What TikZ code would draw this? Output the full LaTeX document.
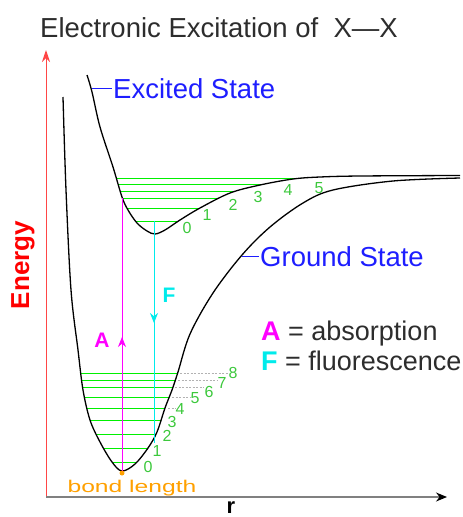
\documentclass[tikz,border=0pt]{standalone}
\usepackage{fontspec}
\setmainfont{Liberation Sans}
\usetikzlibrary{arrows.meta}

\definecolor{axisred}{RGB}{255,70,70}
\definecolor{lvlgreen}{RGB}{0,240,0}
\definecolor{numgreen}{RGB}{60,200,60}
\definecolor{stateblue}{RGB}{30,30,255}
\definecolor{absmag}{RGB}{255,0,255}
\definecolor{fluocyan}{RGB}{0,235,235}
\definecolor{bondorange}{RGB}{255,160,0}
\definecolor{textgray}{RGB}{45,45,45}

% potential curves (pixel coordinates, y downwards)
\newcommand{\groundcurve}{plot[smooth, tension=0.55] coordinates {(63,97) (66,190) (71,290) (78,350) (83,390) (90,420) (100,442) (112,462) (122,471) (135,464) (148,448) (157,432) (165,408) (172,390) (178,372) (190,334) (213,293) (242,255) (270,227) (303,203) (333,190) (393,181) (460,178)}}
\newcommand{\excitedcurve}{plot[smooth, tension=0.55] coordinates {(87,75) (92,92) (100,127) (113,167) (122,197) (128,210) (137,223) (147,231) (155,234) (165,230) (180,220) (200,208) (230,193) (260,185) (293,179) (320,177) (360,176) (460,175.5)}}

\begin{document}
\begin{tikzpicture}[x=1pt, y=-1pt,
    curve/.style={line width=1.3pt, black},
    level/.style={draw=lvlgreen, line width=1pt},
    num/.style={text=numgreen, font=\fontsize{16}{16}\selectfont, inner sep=0pt},
    leader/.style={draw=gray!60, line width=0.8pt, dash pattern=on 2pt off 1.5pt},
    statelabel/.style={text=stateblue, font=\fontsize{27.5}{30}\selectfont, inner sep=1pt},
    legend/.style={text=textgray, font=\fontsize{27}{30}\selectfont, inner sep=0pt}]
    \useasboundingbox (0,0) rectangle (463,517);

    \node[text=textgray, font=\fontsize{27.5}{30}\selectfont, anchor=base west, inner sep=0pt] (title) at (40,37) {Electronic Excitation of\ \ X—X};

    % Axes
    \coordinate (origin) at (46,497);
    \coordinate (etop) at (46,50);
    \coordinate (rend) at (447,497);
    \draw[axisred, line width=1pt, -{Stealth[length=12pt, width=8pt]}] (origin) -- (etop);
    \draw[gray, line width=1.2pt, -{Stealth[length=11pt, width=9pt, black]}] (origin) -- (rend);
    \node[rotate=90, text=red, font=\bfseries\fontsize{26}{26}\selectfont] (energy) at (23,265) {Energy};
    \node[font=\bfseries\fontsize{22}{22}\selectfont, anchor=base, inner sep=0pt] (rlabel) at (231,513) {r};

    % Vibrational levels
    \begin{scope}
        \clip \groundcurve -- (460,0) -- (63,0) -- cycle;
        \foreach \y in {373,380,387,397,408,420,434,448,462}
            \draw[level] (0,\y) -- (463,\y);
    \end{scope}
    \begin{scope}
        \clip \excitedcurve -- (460,0) -- (87,0) -- cycle;
        \foreach \y in {178,184,191,198,208,221}
            \draw[level] (0,\y) -- (463,\y);
    \end{scope}

    % Curves
    \draw[curve] \groundcurve;
    \draw[curve] \excitedcurve;

    % Level numbers
    \foreach \n/\x/\y in {0/148/467, 1/157/451, 2/167/436, 3/172/422, 4/180/409, 5/195/398, 6/209/392, 7/222/383, 8/233/373}
        \node[num] (g\n) at (\x,\y) {\n};
    \foreach \n/\x/\y in {0/187/228, 1/207/215, 2/233/205, 3/258/197, 4/288/190, 5/319/188}
        \node[num] (e\n) at (\x,\y) {\n};
    \foreach \n/\x/\y in {4/168/408, 5/172/397, 6/175/387, 7/178/380, 8/180/373} {
        \coordinate (c\n) at (\x,\y);
        \draw[leader] (c\n) -- (c\n -| g\n.west);
    }

    % Transitions
    \coordinate (a0) at (122,471);
    \coordinate (a1) at (122,198);
    \coordinate (amid) at (122,337);
    \draw[absmag, line width=1pt] (a0) -- (a1);
    \draw[absmag, line width=1pt, -{Stealth[length=10pt, width=8pt]}] (a0) -- (amid);
    \node[text=absmag, font=\bfseries\fontsize{21}{21}\selectfont] (alabel) at (102,340) {A};
    \coordinate (f0) at (154,221);
    \coordinate (f1) at (154,443);
    \coordinate (fmid) at (154,323);
    \draw[fluocyan, line width=1pt] (f0) -- (f1);
    \draw[fluocyan, line width=1pt, -{Stealth[length=10pt, width=8pt]}] (f0) -- (fmid);
    \node[text=fluocyan, font=\bfseries\fontsize{21}{21}\selectfont] (flabel) at (169,295) {F};

    % Bond length
    \fill[bondorange] (a0) ++(0,2) circle (2.5);
    \node[text=bondorange, font=\fontsize{17}{17}\selectfont, inner sep=0pt] (bond) at (132,488) {\scalebox{1.45}[1]{bond length}};

    % State labels
    \node[statelabel, anchor=base west] (excited) at (112,98) {Excited State};
    \coordinate (exctip) at (92,88);
    \draw[stateblue, line width=1pt] (exctip) -- (exctip -| excited.west);
    \node[statelabel, anchor=base west] (ground) at (259,266) {Ground State};
    \coordinate (grdtip) at (242,256);
    \draw[stateblue, line width=1pt] (grdtip) -- (grdtip -| ground.west);

    % Legend
    \node[legend, anchor=base west] (absorb) at (261,340) {\textcolor{absmag}{\bfseries A} = absorption};
    \node[legend, anchor=base west] (fluor) at (261,370) {\textcolor{fluocyan}{\bfseries F} = fluorescence};
\end{tikzpicture}
\end{document}
